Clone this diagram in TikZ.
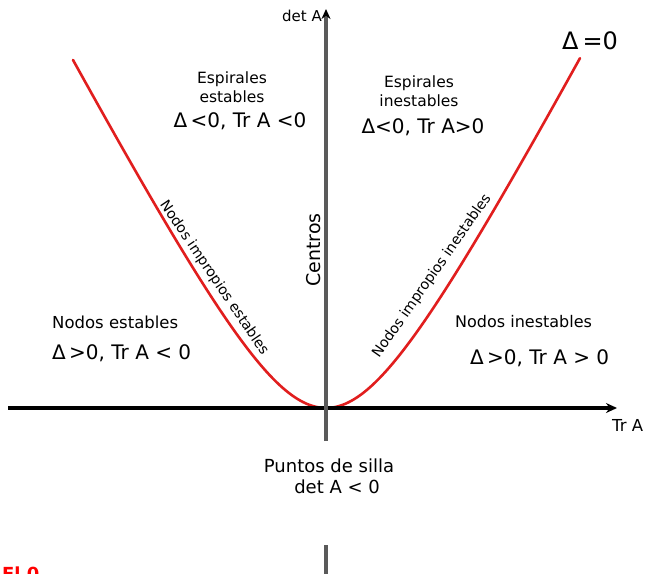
\documentclass[tikz,border=0pt]{standalone}
\usepackage{fontspec}
\setmainfont{DejaVu Sans}
\usetikzlibrary{arrows.meta}
\definecolor{curvered}{RGB}{225,30,30}
\definecolor{axisgray}{RGB}{90,90,90}
\tikzset{
  curve/.style={curvered, line width=2.6pt, line cap=round},
  haxis/.style={black, line width=3.6pt},
  vaxis/.style={axisgray, line width=3.6pt},
  lbl/.style={inner sep=0pt, align=center, font=\fontsize{15.5}{19}\selectfont},
  cond/.style={inner sep=0pt, font=\fontsize{20}{22}\selectfont},
  curvelbl/.style={inner sep=0pt, font=\fontsize{14.2}{16}\selectfont},
}
\begin{document}
\begin{tikzpicture}[x=1pt,y=-1pt]
\useasboundingbox (0,0) rectangle (647,573);
\clip (0,0) rectangle (647,573);
\fill[white] (0,0) rectangle (647,573);
% key coordinates
\coordinate (O) at (326,408);
\coordinate (xl) at (8,408);
\coordinate (xr) at (617,408);
\coordinate (yt) at (326,9);
\coordinate (yb) at (326,441);
\coordinate (yb2) at (326,545);
\coordinate (ye) at (326,575);
% red curves (Delta = 0)
\draw[curve] plot[domain=-2.53:0, samples=90, smooth] ({326+100*\x},{408-190*(sqrt(\x*\x+0.6906)-0.831)});
\draw[curve] plot[domain=0:2.54, samples=90, smooth] ({326+100*\x},{408-190*(sqrt(\x*\x+0.6906)-0.831)});
% axes
\draw[haxis, -{Stealth[length=11pt,width=10pt]}] (xl) -- (xr);
\draw[vaxis, -{Stealth[length=10pt,width=9pt,color=black]}] (yb) -- (yt);
\draw[vaxis] (yb2) -- (ye);
% labels
\node[inner sep=0pt, anchor=east, font=\fontsize{15}{17}\selectfont] (detA) at (322,16) {det A};
\node[inner sep=0pt, font=\fontsize{24}{26}\selectfont] (d0) at (590,41) {Δ\,=0};
\node[lbl] (esp1) at (232,87) {Espirales\\estables};
\node[cond] (c1) at (240,121) {Δ\,<0, Tr A <0};
\node[lbl] (esp2) at (419,91) {Espirales\\inestables};
\node[cond] (c2) at (423,127) {Δ<0, Tr A>0};
\node[inner sep=0pt, rotate=90, font=\fontsize{19}{21}\selectfont] (cen) at (314,250) {Centros};
\node[curvelbl, rotate=-56] (nie) at (214,278) {Nodos impropios estables};
\node[curvelbl, rotate=55] (nii) at (432,276) {Nodos impropios inestables};
\node[inner sep=0pt, anchor=west, font=\fontsize{16.5}{18}\selectfont] (ne) at (52,322) {Nodos estables};
\node[cond, anchor=west] (c3) at (52,353) {Δ\,>0, Tr A < 0};
\node[inner sep=0pt, anchor=west, font=\fontsize{16}{18}\selectfont] (ni) at (455,322) {Nodos inestables};
\node[cond, anchor=west] (c4) at (470,358) {Δ\,>0, Tr A > 0};
\node[inner sep=0pt, anchor=west, font=\fontsize{16.5}{18}\selectfont] (tra) at (612,425) {Tr A};
\node[inner sep=0pt, align=center, font=\fontsize{18}{21}\selectfont] (ps) at (329,476) {Puntos de silla\\\hspace*{0.9em}det A < 0};
\node[inner sep=0pt, anchor=north west, text=red, font=\bfseries\fontsize{18}{20}\selectfont] (el) at (2,567) {El 0};
\end{tikzpicture}
\end{document}
